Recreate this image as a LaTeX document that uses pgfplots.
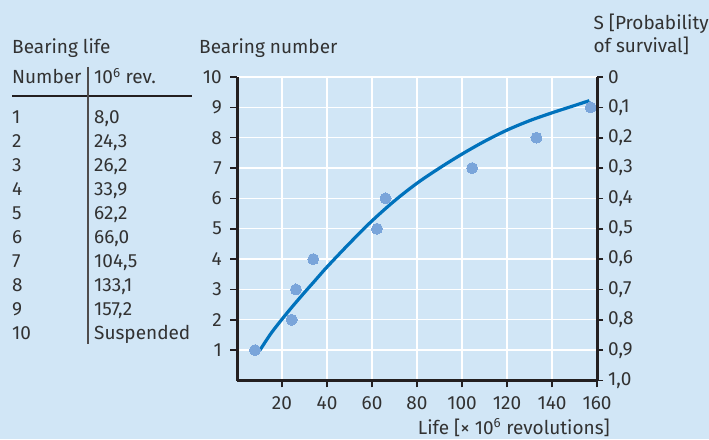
\documentclass[border=0pt]{standalone}
\usepackage{fontspec}
\setmainfont{Fira Sans}
\usepackage{pgfplots}
\pgfplotsset{compat=1.18}
\definecolor{bg}{RGB}{209,230,246}
\definecolor{spine}{RGB}{35,31,32}
\definecolor{curve}{RGB}{0,114,188}
\definecolor{pts}{RGB}{122,165,218}
\definecolor{txt}{RGB}{50,50,50}
\newcommand\fs{\fontsize{19}{22.8}\selectfont}
\begin{document}
\begin{tikzpicture}[x=1pt,y=1pt,every node/.style={font=\fs,text=txt,inner sep=0pt}]
\fill[bg] (0,0) rectangle (709,439);
\useasboundingbox (0,0) rectangle (709,439);
% table
\node[anchor=base west] at (12,385) {Bearing life};
\node[anchor=base west] at (12,355.7) {Number};
\node[anchor=base west] at (94,355.7) {10\textsuperscript{6} rev.};
\draw[spine,line width=1.6pt] (12,343) -- (192,343);
\draw[spine!80,line width=1.3pt] (88,372) -- (88,95);
\foreach \n/\v [count=\i from 0] in {1/{8,0},2/{24,3},3/{26,2},4/{33,9},5/{62,2},6/{66,0},7/{104,5},8/{133,1},9/{157,2},10/Suspended}{
  \node[anchor=base west] at (12,315.7-24*\i) {\n};
  \node[anchor=base west] at (94,315.7-24*\i) {\v};
}
\node[anchor=base west] at (199,385) {Bearing number};
\node[anchor=base west] at (593.3,409.7) {S [Probability};
\node[anchor=base west] at (593.3,386.3) {of survival]};
\node[anchor=base east] at (610,5) {Life [× 10\textsuperscript{6} revolutions]};
\begin{axis}[at={(237pt,58.5pt)}, anchor=south west, width=360pt, height=303.5pt, scale only axis,
  xmin=0, xmax=160, ymin=0, ymax=10,
  axis x line*=bottom, axis y line*=left,
  x axis line style={-}, y axis line style={-},
  axis line style={draw=spine, line width=3pt},
  xtick={20,40,...,160}, ytick={1,...,10},
  tick align=outside, major tick length=7pt,
  tick style={draw=spine, line width=1.6pt},
  grid=major, major grid style={white, line width=1.3pt},
  tick label style={font=\fs, text=txt},
  /pgf/number format/assume math mode=true,
  xticklabel style={inner sep=0pt, yshift=-9pt},
  yticklabel style={inner sep=0pt, xshift=-8pt},
  clip=false]
\addplot[smooth, tension=0.5, curve, line width=3.2pt] coordinates {
(10.2,1.0) (15,1.54) (20,2.02) (25,2.47) (30,2.9) (35,3.32) (40,3.74) (50,4.52) (60,5.26) (70,5.92) (80,6.5) (90,7.0) (100,7.46) (110,7.88) (120,8.25) (130,8.56) (140,8.82) (150,9.06) (156.6,9.22)};
\addplot[only marks, mark=*, mark size=5.5pt, color=pts, mark options={draw=pts, fill=pts, line width=0pt}] coordinates {
(8.0,1) (24.3,2) (26.2,3) (33.9,4) (62.2,5) (66.0,6) (104.5,7) (133.1,8) (157.2,9)};
\end{axis}
\begin{axis}[at={(237pt,58.5pt)}, anchor=south west, width=360pt, height=303.5pt, scale only axis,
  xmin=0, xmax=160, ymin=0, ymax=1, y dir=reverse,
  axis x line=none, axis y line*=right,
  y axis line style={-},
  axis line style={draw=spine, line width=3pt},
  ytick={0,0.1,0.2,0.3,0.4,0.5,0.6,0.7,0.8,0.9,1.0},
  yticklabels={0,{0,1},{0,2},{0,3},{0,4},{0,5},{0,6},{0,7},{0,8},{0,9},{1,0}},
  tick align=outside, major tick length=6pt,
  tick style={draw=spine, line width=1.6pt},
  tick label style={font=\fs, text=txt},
  yticklabel style={inner sep=0pt, xshift=5pt},
  clip=false]
\end{axis}
\end{tikzpicture}
\end{document}
